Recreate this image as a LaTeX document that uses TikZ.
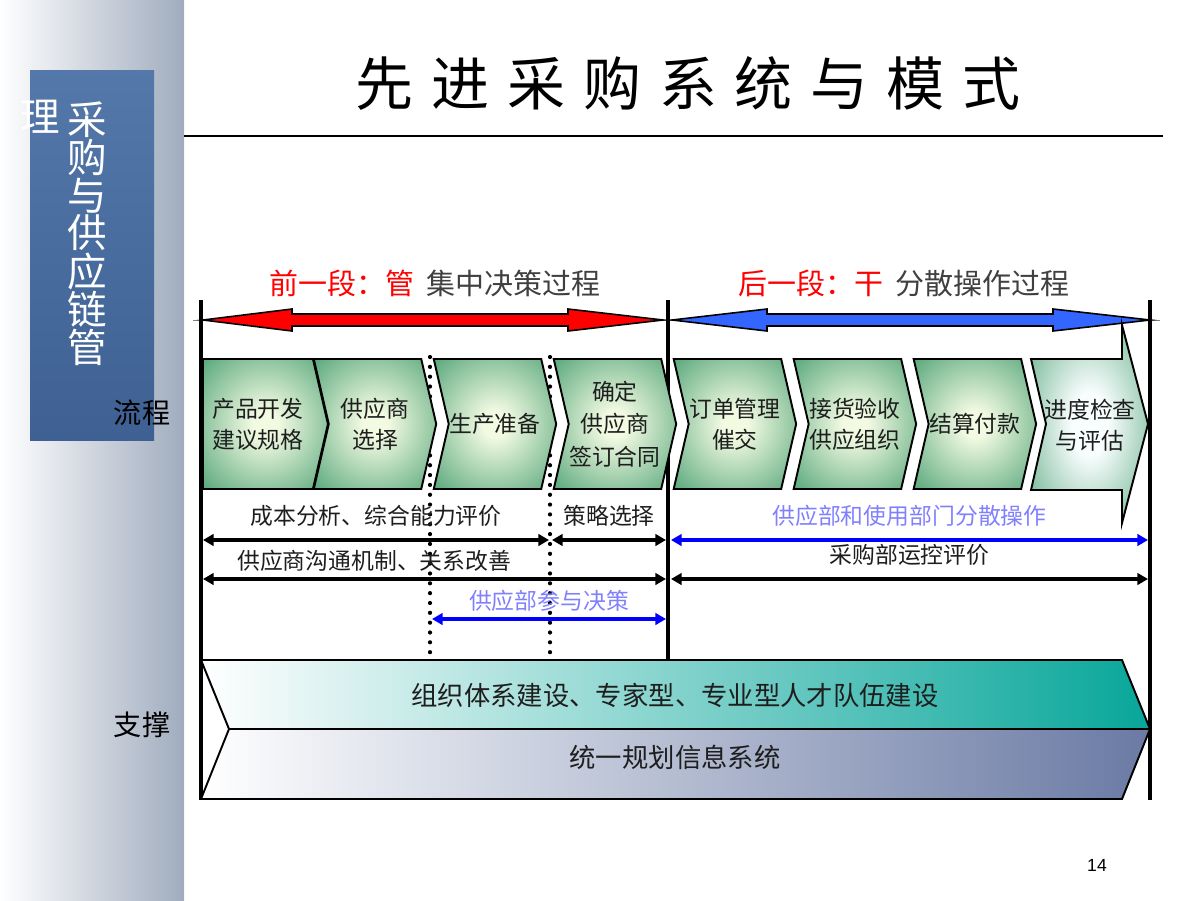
\documentclass[tikz,border=0pt]{standalone}
\usepackage{fontspec}
\setmainfont{Noto Sans CJK SC}
\newfontfamily\numfont{Liberation Sans}
\usetikzlibrary{arrows.meta, positioning, shapes.symbols}

\definecolor{sidegray}{RGB}{160,172,190}
\definecolor{boxblue}{RGB}{84,120,170}
\definecolor{boxblue2}{RGB}{62,96,146}
\definecolor{chevgreen}{RGB}{56,150,102}
\definecolor{chevlight}{RGB}{242,250,226}
\definecolor{lastlight}{RGB}{248,253,253}
\definecolor{fatblue}{RGB}{51,102,255}
\definecolor{softblue}{RGB}{128,128,255}
\definecolor{bandteal}{RGB}{8,166,154}
\definecolor{bandslate}{RGB}{106,122,164}
\definecolor{hdrgray}{RGB}{64,64,64}
\definecolor{txtdark}{RGB}{30,30,30}

\pgfdeclareradialshading{chevshade}{\pgfpoint{0bp}{0bp}}{color(0bp)=(chevlight); color(5bp)=(chevlight); color(42bp)=(chevgreen); color(70bp)=(chevgreen)}
\pgfdeclareradialshading{lastshade}{\pgfpoint{0bp}{0bp}}{color(0bp)=(lastlight); color(8bp)=(lastlight); color(44bp)=(chevgreen); color(70bp)=(chevgreen)}

\tikzset{
  chev/.style={signal, signal to=east, signal from=west, signal pointer angle=154,
    draw=black, line width=1.1pt, shading=chevshade,
    minimum height=2.6cm, minimum width=2.45cm, inner sep=0pt, align=center,
    text=txtdark, font=\fontsize{13pt}{17.5pt}\selectfont},
  lbl/.style={text=txtdark, font=\fontsize{13pt}{16pt}\selectfont},
  vline/.style={line width=2.2pt},
  dotline/.style={line width=2.4pt, line cap=round, dash pattern=on 0pt off 5.6pt},
  darr/.style={{Triangle[length=6pt,width=6.5pt]}-{Triangle[length=6pt,width=6.5pt]}, line width=1.8pt},
}

\begin{document}
\begin{tikzpicture}[x=0.02cm, y=-0.02cm, node distance=2.4cm]
          \useasboundingbox (0,0) rectangle (1200,900);
          \shade[left color=white, right color=sidegray] (0,0) rectangle (184,900);
          \shade[top color=boxblue, bottom color=boxblue2] (30,70) rectangle (154,440);
          \node[text=white, align=center, font=\fontsize{22.5pt}{19.5pt}\selectfont] (side) at (87,234) {采\\购\\与\\供\\应\\链\\管};
          \node[text=white, font=\fontsize{22.5pt}{26pt}\selectfont] (side2) at (40,117) {理};
          \node[font=\fontsize{16pt}{18pt}\selectfont] (flow) at (142,413) {流程};
          \node[font=\fontsize{16pt}{18pt}\selectfont] (prop) at (142,725) {支撑};

          \node[font=\fontsize{33pt}{36pt}\selectfont\addfontfeature{LetterSpace=31}] (title) at (688,83) {先进采购系统与模式};
          \draw[line width=1.1pt] (184,136) -- (1163,136);

          \node[text=hdrgray, font=\fontsize{16.5pt}{18pt}\selectfont] (h1) at (435,283) {\textcolor{red}{前一段：管}\hspace{0.25cm}集中决策过程};
          \node[text=hdrgray, font=\fontsize{16.5pt}{18pt}\selectfont] (h2) at (904,283) {\textcolor{red}{后一段：干}\hspace{0.25cm}分散操作过程};

          \draw[gray, line width=0.5pt] (193,320) -- (1160,320);
          \draw[vline] (201,300) -- (201,800);
          \draw[vline] (668,300) -- (668,660);
          \draw[vline] (1150,300) -- (1150,800);
          \draw[dotline] (430,357) -- (430,660);
          \draw[dotline] (550,357) -- (550,660);

          \draw[fill=red, line width=0.9pt] (203,320) -- (292,309) -- (292,314) -- (568,314) -- (568,309) -- (663,320) -- (568,331) -- (568,326) -- (292,326) -- (292,331) -- cycle;
          \draw[fill=fatblue, line width=0.9pt] (672,320) -- (767,309) -- (767,314) -- (1053,314) -- (1053,309) -- (1150,320) -- (1053,331) -- (1053,326) -- (767,326) -- (767,331) -- cycle;

          \node[chev, signal from=nowhere, minimum width=2.5cm, anchor=west] (1) at (202,424) {产品开发\\建议规格};
          \node[chev] (2) at (375,424) {供应商\\选择};
          \node[chev] (3) [right of=2] {生产准备};
          \node[chev, font=\fontsize{13pt}{18.5pt}\selectfont] (4) [right of=3] {确定\\供应商\\签订合同};
          \node[chev] (5) [right of=4] {订单管理\\催交};
          \node[chev] (6) [right of=5] {接货验收\\供应组织};
          \node[chev] (7) [right of=6] {结算付款};
          \draw[line width=1.1pt, shading=lastshade] (1031,359) -- (1122,359) -- (1122,325) -- (1148,424) -- (1122,523) -- (1122,490) -- (1031,490) -- (1046,424) -- cycle;
          \node[text=txtdark, align=center, font=\fontsize{13pt}{17.5pt}\selectfont] (8) at (1090,425) {进度检查\\与评估};

          \coordinate (a1) at (203,540);
          \coordinate (a2) at (549,540);
          \coordinate (a3) at (552,540);
          \coordinate (a4) at (666,540);
          \coordinate (a5) at (671,540);
          \coordinate (a6) at (1148,540);
          \coordinate (b1) at (203,579);
          \coordinate (b2) at (666,579);
          \coordinate (b3) at (671,579);
          \coordinate (b4) at (1148,579);
          \coordinate (c1) at (432,619);
          \coordinate (c2) at (666,619);

          \draw[darr] (a1) -- node[midway, above=0.12cm, lbl] {成本分析、综合能力评价} (a2);
          \draw[darr] (a3) -- node[midway, above=0.12cm, lbl] {策略选择} (a4);
          \draw[darr, blue] (a5) -- node[midway, above=0.12cm, lbl, text=softblue] {供应部和使用部门分散操作} (a6);
          \draw[darr] (b1) -- node[pos=0.37, above, lbl] {供应商沟通机制、关系改善} (b2);
          \draw[darr] (b3) -- node[midway, above=0.12cm, lbl] {采购部运控评价} (b4);
          \draw[darr, blue] (c1) -- node[midway, above, lbl, text=softblue] {供应部参与决策} (c2);

          \draw[line width=1.1pt, left color=white, middle color=bandteal!35, right color=bandteal] (201,660) -- (1122,660) -- (1150,729) -- (229,729) -- cycle;
          \draw[line width=1.1pt, left color=white, middle color=bandslate!25, right color=bandslate] (229,729) -- (1150,729) -- (1122,799) -- (201,799) -- cycle;
          \node[text=txtdark, font=\fontsize{15pt}{18pt}\selectfont] (org) at (675,695) {组织体系建设、专家型、专业型人才队伍建设};
          \node[text=txtdark, font=\fontsize{15pt}{18pt}\selectfont] (info) at (675,757) {统一规划信息系统};

          \node[font=\numfont\fontsize{10pt}{12pt}\selectfont] (page) at (1097,865) {14};
    \end{tikzpicture}
\end{document}
